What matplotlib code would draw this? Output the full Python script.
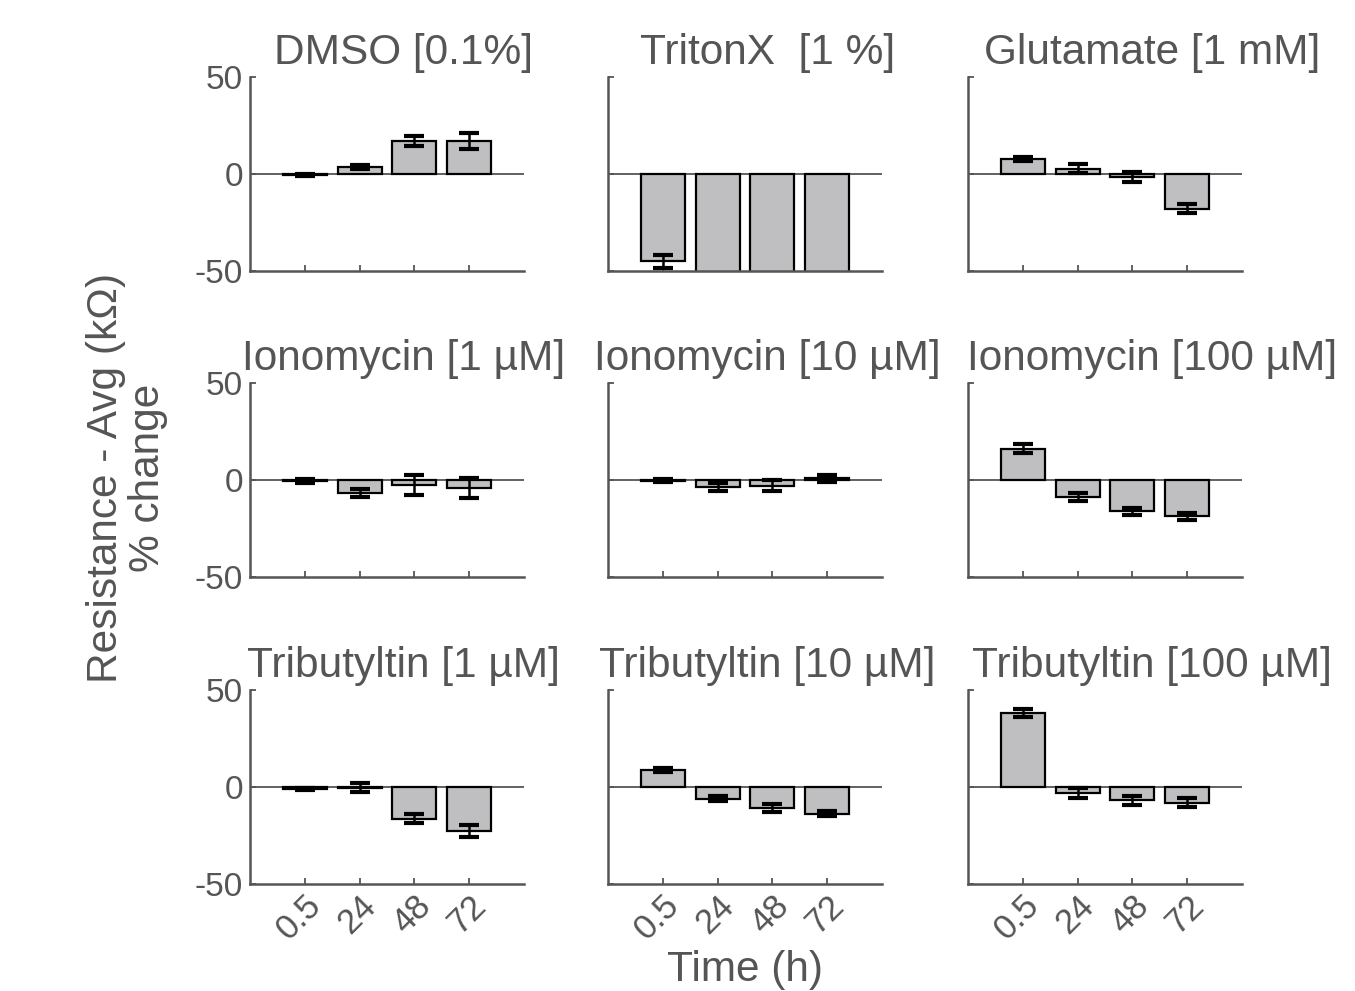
import matplotlib
matplotlib.use("Agg")
import matplotlib.pyplot as plt
import numpy as np

times = ["0.5", "24", "48", "72"]
titles = [
    "DMSO [0.1%]", "TritonX  [1 %]", "Glutamate [1 mM]",
    "Ionomycin [1 µM]", "Ionomycin [10 µM]", "Ionomycin [100 µM]",
    "Tributyltin [1 µM]", "Tributyltin [10 µM]", "Tributyltin [100 µM]",
]
dmso = [-0.4, 3.8, 17.0, 17.0]
dmso_err = [0.5, 1.0, 2.6, 4.3]
triton = [-45.0, -100.0, -100.0, -100.0]
triton_err = [3.2, 0.0, 0.0, 0.0]
glut = [7.9, 2.7, -1.5, -17.9]
glut_err = [1.0, 2.2, 2.4, 2.4]
iono1 = [-0.5, -6.7, -2.7, -4.1]
iono1_err = [0.8, 2.0, 5.2, 5.0]
iono10 = [-0.3, -3.8, -3.0, 0.8]
iono10_err = [0.8, 2.0, 2.8, 1.9]
iono100 = [16.1, -8.8, -16.2, -18.7]
iono100_err = [2.3, 2.2, 2.0, 1.9]
tbt1 = [-1.0, -0.3, -16.3, -22.7]
tbt1_err = [0.5, 2.2, 2.5, 3.0]
tbt10 = [8.6, -6.0, -10.7, -13.9]
tbt10_err = [1.0, 1.2, 2.0, 1.3]
tbt100 = [38.1, -3.3, -6.9, -8.2]
tbt100_err = [2.1, 2.6, 2.2, 2.3]

values = [dmso, triton, glut, iono1, iono10, iono100, tbt1, tbt10, tbt100]
errors = [dmso_err, triton_err, glut_err, iono1_err, iono10_err, iono100_err,
          tbt1_err, tbt10_err, tbt100_err]

plt.rcParams['font.family'] = ['Liberation Sans', 'DejaVu Sans']
TXT = '#555555'
fig = plt.figure(figsize=(13.55, 9.91), dpi=100)

lefts = [250/1355, 608/1355, 968/1355]
width = 274/1355
bottoms = [1-271/991, 1-577/991, 1-884/991]
height = 194/991
title_x = [0.56, 0.582, 0.672]

x = np.arange(1, 5)
for i in range(9):
    r, c = divmod(i, 3)
    ax = fig.add_axes([lefts[c], bottoms[r], width, height])
    ax.bar(x, values[i], width=0.8, color='#bfbfc1', edgecolor='black',
           linewidth=1.6, zorder=2)
    err = np.array(errors[i])
    mask = err > 0
    ax.errorbar(x[mask], np.array(values[i])[mask], yerr=err[mask], fmt='none',
                ecolor='black', elinewidth=1.8, capsize=7, capthick=3, zorder=3)
    ax.axhline(0, color=TXT, lw=1.3, zorder=1)
    ax.set_xlim(0, 5)
    ax.set_ylim(-50, 50)
    for s in ['top', 'right']:
        ax.spines[s].set_visible(False)
    for s in ['left', 'bottom']:
        ax.spines[s].set_color(TXT)
        ax.spines[s].set_linewidth(1.8)
    ax.set_yticks([-50, 0, 50])
    ax.set_xticks(x)
    ax.tick_params(direction='in', length=4, width=1.3, colors=TXT,
                   labelsize=24, labelcolor=TXT)
    if c == 0:
        ax.set_yticklabels(['-50', '0', '50'])
    else:
        ax.set_yticklabels([])
    ax.tick_params(axis='y', pad=5)
    if r == 2:
        ax.set_xticklabels(times, rotation=45, ha='right', rotation_mode='anchor',
                           fontsize=25)
    else:
        ax.set_xticklabels([])
    ax.text(title_x[c], 1.065, titles[i], transform=ax.transAxes, ha='center',
            va='baseline', fontsize=30.5, color=TXT)

fig.text(745/1355, 1-970/991, 'Time (h)', ha='center', va='center',
         fontsize=30.5, color=TXT)
fig.text(106/1355, 1-478/991, 'Resistance - Avg (kΩ)', ha='center', va='center',
         rotation=90, fontsize=30.5, color=TXT)
fig.text(148/1355, 1-478/991, '% change', ha='center', va='center',
         rotation=90, fontsize=30.5, color=TXT)

fig.savefig('out.png', dpi=100, facecolor='white')
